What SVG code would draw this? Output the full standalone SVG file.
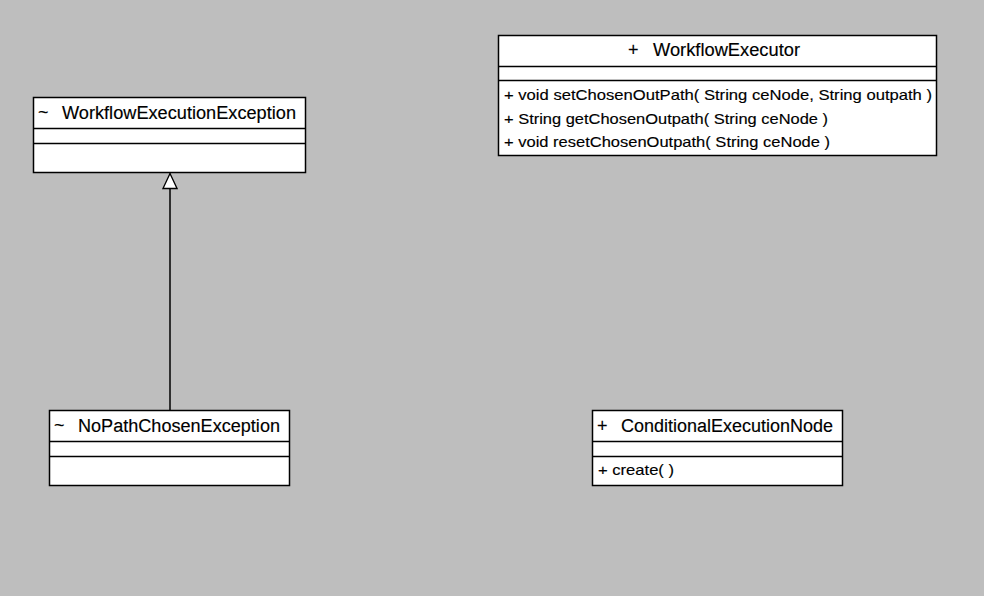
<svg xmlns="http://www.w3.org/2000/svg" width="984" height="596" viewBox="0 0 984 596">
  <style>
    .box { fill: #ffffff; stroke: #000000; stroke-width: 1.5; }
    .div { stroke: #000000; stroke-width: 1.5; }
    .hd { font-family: "Liberation Sans", Arial, sans-serif; font-size: 18px; fill: #000; stroke: #000; stroke-width: 0.15; }
    .mb { font-family: "Liberation Sans", Arial, sans-serif; font-size: 15px; fill: #000; stroke: #000; stroke-width: 0.15; }
    .edge { stroke: #000000; stroke-width: 1.5; fill: none; }
  </style>
  <defs>
    <marker id="inherit" markerWidth="18" markerHeight="16" refX="16" refY="8" orient="auto" markerUnits="userSpaceOnUse">
      <path d="M1,1 L16,8 L1,15 Z" fill="#ffffff" stroke="#000000" stroke-width="1.3"/>
    </marker>
  </defs>
  <rect width="984" height="596" fill="#bebebe"/>

  <g id="WorkflowExecutionException">
    <rect class="box" x="33.5" y="97.5" width="272" height="75"/>
    <line class="div" x1="33.5" y1="128.5" x2="305.5" y2="128.5"/>
    <line class="div" x1="33.5" y1="143.5" x2="305.5" y2="143.5"/>
    <text class="hd" x="38" y="118">~</text>
    <text class="hd" x="62" y="119" textLength="234" lengthAdjust="spacingAndGlyphs">WorkflowExecutionException</text>
  </g>

  <g id="WorkflowExecutor">
    <rect class="box" x="498.5" y="35.5" width="438" height="120"/>
    <line class="div" x1="498.5" y1="66.5" x2="936.5" y2="66.5"/>
    <line class="div" x1="498.5" y1="80.5" x2="936.5" y2="80.5"/>
    <text class="hd" x="628" y="56">+</text>
    <text class="hd" x="653" y="56" textLength="147" lengthAdjust="spacingAndGlyphs">WorkflowExecutor</text>
    <text class="mb" x="504" y="100" textLength="428" lengthAdjust="spacingAndGlyphs">+ void setChosenOutPath( String ceNode, String outpath )</text>
    <text class="mb" x="504" y="124" textLength="324" lengthAdjust="spacingAndGlyphs">+ String getChosenOutpath( String ceNode )</text>
    <text class="mb" x="504" y="147" textLength="326" lengthAdjust="spacingAndGlyphs">+ void resetChosenOutpath( String ceNode )</text>
  </g>

  <g id="NoPathChosenException">
    <rect class="box" x="49.5" y="410.5" width="240" height="75"/>
    <line class="div" x1="49.5" y1="441.5" x2="289.5" y2="441.5"/>
    <line class="div" x1="49.5" y1="456.5" x2="289.5" y2="456.5"/>
    <text class="hd" x="54" y="431">~</text>
    <text class="hd" x="78" y="432" textLength="202" lengthAdjust="spacingAndGlyphs">NoPathChosenException</text>
  </g>

  <g id="ConditionalExecutionNode">
    <rect class="box" x="592.5" y="410.5" width="250" height="75"/>
    <line class="div" x1="592.5" y1="441.5" x2="842.5" y2="441.5"/>
    <line class="div" x1="592.5" y1="456.5" x2="842.5" y2="456.5"/>
    <text class="hd" x="597" y="432">+</text>
    <text class="hd" x="621" y="432" textLength="212" lengthAdjust="spacingAndGlyphs">ConditionalExecutionNode</text>
    <text class="mb" x="598" y="475" textLength="76" lengthAdjust="spacingAndGlyphs">+ create( )</text>
  </g>

  <g id="connectors">
    <line class="edge" x1="170" y1="410" x2="170" y2="173.5" marker-end="url(#inherit)"/>
  </g>
</svg>
